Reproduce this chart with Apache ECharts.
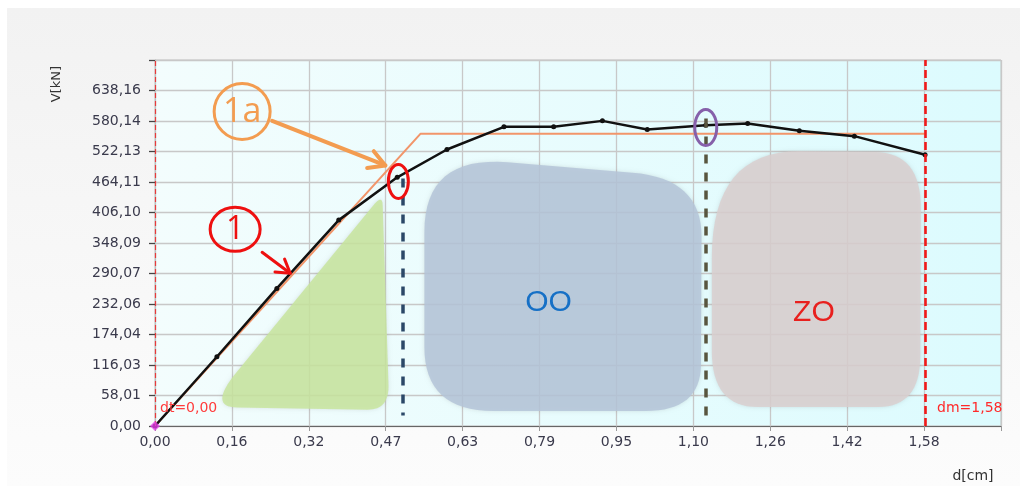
<!DOCTYPE html>
<html><head><meta charset="utf-8">
<script src="https://cdn.jsdelivr.net/npm/echarts@6/dist/echarts.min.js"></script>
<style>html,body{margin:0;padding:0;background:#fff}#c{width:1020px;height:486px}</style>
</head><body><div id="c"></div>
<script>
// ---- data ----
const xStep = 0.1578;
const yStep = 58.0145;
const xTickLabels = ['0,00','0,16','0,32','0,47','0,63','0,79','0,95','1,10','1,26','1,42','1,58'];
const yTickLabels = ['0,00','58,01','116,03','174,04','232,06','290,07','348,09','406,10','464,11','522,13','580,14','638,16'];
const curveX = [0, 0.127, 0.250, 0.377, 0.497, 0.599, 0.716, 0.818, 0.918, 1.010, 1.130, 1.216, 1.322, 1.435, 1.580];
const curveV = [0, 131.7, 261.7, 391.6, 473.0, 526.0, 569.0, 569.0, 580.4, 564.0, 572.0, 575.5, 561.4, 551.3, 515.8];
const bilinX = [0, 0.545, 1.580];
const bilinV = [0, 556.0, 556.0];
const dtValue = 0.00, dmValue = 1.58;
const dtText = 'dt=0,00', dmText = 'dm=1,58';
const yieldX = 0.5075, peakX = 1.130;
const yieldV = 471, peakV = 585;
const xName = 'd[cm]', yName = 'V[kN]';
const zoneNames = ['OO', 'ZO'];
const labelOne = '1', labelOneA = '1a';

// ---- annotation geometry (data coordinates, corner points + rounding) ----
const greenBlob = [[0.4664,440.6],[0.4808,30.4],[0.1089,36.1]];
const greenRound = [0.05, 0.12, 0.16];
const blueBlob = [[0.5527,514.6],[1.1218,471.0],[1.1198,28.5],[0.5527,28.5]];
const blueRound = [0.3, 0.25, 0.2, 0.25];
const pinkBlob = [[1.1424,524.1],[1.5718,520.3],[1.5698,36.1],[1.1424,36.1]];
const pinkRound = [0.42, 0.22, 0.2, 0.22];

const chart = echarts.init(document.getElementById('c'));
const FONT = 'DejaVu Sans';
const LBL = '#3a3a4c';

chart.setOption({
  animation: false,
  backgroundColor: '#ffffff',
  grid: {
    left: 155, right: 19, top: 60, bottom: 60, show: true,
    backgroundColor: new echarts.graphic.LinearGradient(0, 0, 1, 0, [
      {offset: 0, color: '#f3fdfd'}, {offset: 1, color: '#dcfbfe'}]),
    borderColor: '#c2c2c2', borderWidth: 1
  },
  xAxis: {
    type: 'value', min: 0, max: xStep * 11, interval: xStep,
    axisLine: {show: true, lineStyle: {color: '#666', width: 1}},
    axisTick: {show: true, length: 5, lineStyle: {color: '#999'}},
    splitLine: {show: true, lineStyle: {color: '#c8c8c8', width: 1.3}},
    axisLabel: {
      margin: 9, fontFamily: FONT, fontSize: 14, color: LBL,
      formatter: v => { const i = Math.round(v / xStep); return xTickLabels[i] !== undefined ? xTickLabels[i] : ''; }
    }
  },
  yAxis: {
    type: 'value', min: 0, max: yStep * 12, interval: yStep,
    axisLine: {show: true, lineStyle: {color: '#bbb', width: 1}},
    axisTick: {show: true, length: 6, lineStyle: {color: '#444', width: 1.3}},
    splitLine: {show: true, lineStyle: {color: '#c8c8c8', width: 1.3}},
    axisLabel: {
      margin: 14, fontFamily: FONT, fontSize: 14, color: LBL,
      formatter: v => { const i = Math.round(v / yStep); return yTickLabels[i] !== undefined ? yTickLabels[i] : ''; }
    }
  },
  series: [
    {
      type: 'line', data: bilinX.map((x, i) => [x, bilinV[i]]), symbol: 'none', z: 3,
      lineStyle: {color: '#f2956a', width: 2}
    },
    {
      type: 'line', data: curveX.map((x, i) => [x, curveV[i]]), symbol: 'circle', symbolSize: 5, z: 4,
      itemStyle: {color: '#111'}, lineStyle: {color: '#111', width: 2.5}
    },
    {
      type: 'scatter', data: [[dtValue, 0]], symbol: 'diamond', symbolSize: 10, z: 6,
      itemStyle: {color: '#e23fe6'},
      markLine: {
        silent: true, symbol: ['none', 'none'], label: {show: false}, animation: false,
        data: [
          {xAxis: dtValue, lineStyle: {color: '#e83a3a', width: 1.2, type: [5, 3]}},
          {xAxis: dmValue, lineStyle: {color: '#f01a1a', width: 2.6, type: [8, 4]}},
          [{coord: [yieldX, yieldV], lineStyle: {color: '#2b4868', width: 3.5, type: [9, 9]}}, {coord: [yieldX, 20]}],
          [{coord: [peakX, peakV], lineStyle: {color: '#58553f', width: 3.5, type: [9, 9]}}, {coord: [peakX, 20]}]
        ]
      }
    }
  ]
});

const P = (x, y) => chart.convertToPixel({gridIndex: 0}, [x, y]);
function roundedPoints(corners, rounds) {
  const pts = corners.map(p => P(p[0], p[1]));
  const n = pts.length, out = [];
  for (let i = 0; i < n; i++) {
    const c = pts[i], p = pts[(i - 1 + n) % n], q = pts[(i + 1) % n], f = rounds[i];
    const a = [c[0] + (p[0] - c[0]) * f, c[1] + (p[1] - c[1]) * f];
    const b = [c[0] + (q[0] - c[0]) * f, c[1] + (q[1] - c[1]) * f];
    const N = 16;
    for (let k = 0; k <= N; k++) {
      const t = k / N, m = 1 - t;
      out.push([m * m * a[0] + 2 * m * t * c[0] + t * t * b[0], m * m * a[1] + 2 * m * t * c[1] + t * t * b[1]]);
    }
  }
  return out;
}
function arrow(s, e, color, w, L, hw) {
  const a = P(s[0], s[1]), b = P(e[0], e[1]);
  const dx = b[0] - a[0], dy = b[1] - a[1], len = Math.hypot(dx, dy);
  const ux = dx / len, uy = dy / len, nx = -uy, ny = ux;
  return [
    {type: 'line', z: 20, shape: {x1: a[0], y1: a[1], x2: b[0], y2: b[1]}, style: {stroke: color, lineWidth: w, lineCap: 'round'}},
    {type: 'polyline', z: 20, shape: {points: [
      [b[0] - ux * L + nx * hw, b[1] - uy * L + ny * hw], [b[0], b[1]], [b[0] - ux * L - nx * hw, b[1] - uy * L - ny * hw]]},
      style: {stroke: color, lineWidth: w, lineCap: 'round', lineJoin: 'round', fill: null}}
  ];
}
const blobStyle = (c) => ({fill: c, shadowBlur: 4, shadowColor: 'rgba(0,0,0,0.12)'});
const oo = P(0.8075, 233.6), zo = P(1.352, 214.6);
const dtP = P(dtValue, 34), dmP = P(dmValue, 34);
const c1a = P(0.1788, 598.2), c1 = P(0.1644, 374.1);
const re = P(0.4993, 465.3), pe = P(1.130, 567.8);

const g = [
  {type: 'rect', z: -100, shape: {x: 7, y: 8, width: 1013, height: 478},
    style: {fill: new echarts.graphic.LinearGradient(0, 0, 0, 1, [{offset: 0, color: '#f2f2f2'}, {offset: 1, color: '#fcfcfc'}])}},
  {type: 'polygon', z: 1, shape: {points: roundedPoints(greenBlob, greenRound)}, style: blobStyle('rgba(200,229,158,0.85)')},
  {type: 'polygon', z: 1, shape: {points: roundedPoints(blueBlob, blueRound)}, style: blobStyle('rgba(180,197,216,0.86)')},
  {type: 'polygon', z: 1, shape: {points: roundedPoints(pinkBlob, pinkRound)}, style: blobStyle('rgba(218,207,207,0.86)')},
  {type: 'text', z: 15, x: oo[0], y: oo[1], style: {text: zoneNames[0], fill: '#1670c6', font: '30px "Liberation Sans"', align: 'center', verticalAlign: 'middle'}},
  {type: 'text', z: 15, x: zo[0], y: zo[1], style: {text: zoneNames[1], fill: '#e8201e', font: '30px "Liberation Sans"', align: 'center', verticalAlign: 'middle'}},
  {type: 'text', z: 15, x: dtP[0] + 5, y: dtP[1], style: {text: dtText, fill: '#ff3c3c', font: '14px "DejaVu Sans"', align: 'left', verticalAlign: 'middle'}},
  {type: 'text', z: 15, x: dmP[0] + 12, y: dmP[1], style: {text: dmText, fill: '#ff2a2a', font: '14px "DejaVu Sans"', align: 'left', verticalAlign: 'middle'}},
  {type: 'ellipse', z: 20, shape: {cx: re[0], cy: re[1], rx: 10, ry: 17}, style: {fill: null, stroke: '#ee1010', lineWidth: 3}},
  {type: 'ellipse', z: 20, shape: {cx: pe[0], cy: pe[1], rx: 11, ry: 18}, style: {fill: null, stroke: '#8660aa', lineWidth: 3}},
  {type: 'ellipse', z: 20, shape: {cx: c1a[0], cy: c1a[1], rx: 28, ry: 28}, style: {fill: null, stroke: '#f39c50', lineWidth: 3}},
  {type: 'text', z: 21, x: c1a[0], y: c1a[1] + 1, style: {text: labelOneA, fill: '#f39c50', font: '34px "Open Sans"', align: 'center', verticalAlign: 'middle'}},
  {type: 'ellipse', z: 20, shape: {cx: c1[0], cy: c1[1], rx: 25, ry: 22}, style: {fill: null, stroke: '#ee1010', lineWidth: 3}},
  {type: 'text', z: 21, x: c1[0], y: c1[1] + 1, style: {text: labelOne, fill: '#ee1010', font: '32px "Open Sans"', align: 'center', verticalAlign: 'middle'}},
  ...arrow([0.2404, 580.5], [0.4726, 495.6], '#f39c50', 4, 16, 9),
  ...arrow([0.2198, 330.4], [0.2774, 290.5], '#ee1010', 3, 13, 8),
  {type: 'text', z: 15, x: 57, y: 84, rotation: Math.PI / 2, style: {text: yName, fill: '#333', font: '13px "DejaVu Sans"', align: 'center', verticalAlign: 'middle'}},
  {type: 'text', z: 15, x: 973, y: 476, style: {text: xName, fill: '#333', font: '14px "DejaVu Sans"', align: 'center', verticalAlign: 'middle'}}
];
chart.setOption({graphic: g});
</script>
</body></html>
